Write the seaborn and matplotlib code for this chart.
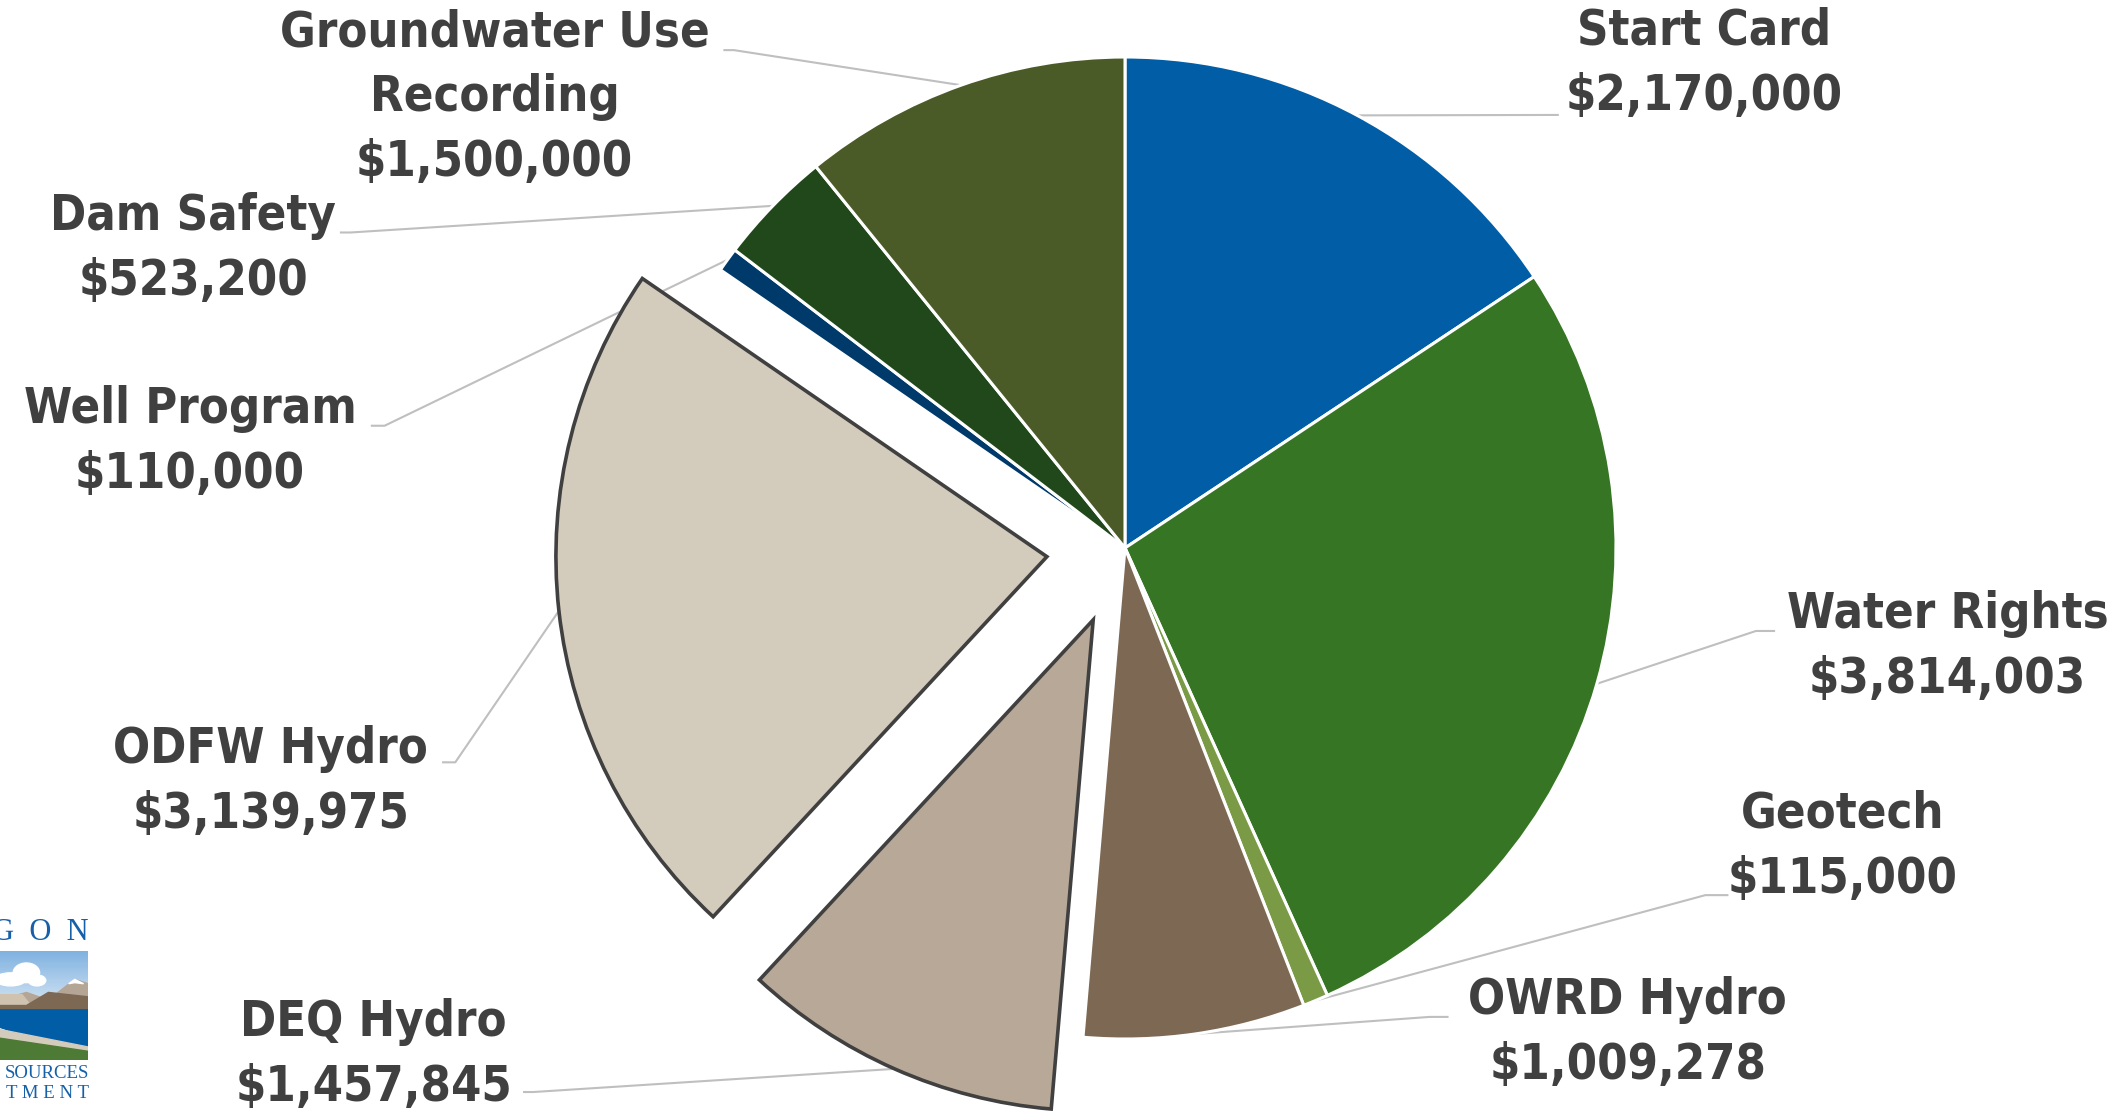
import numpy as np
import seaborn as sns
import matplotlib.pyplot as plt
from matplotlib.patches import Polygon, Ellipse
from matplotlib.colors import LinearSegmentedColormap

# data
programs = ["Start Card", "Water Rights", "Geotech", "OWRD Hydro", "DEQ Hydro",
            "ODFW Hydro", "Well Program", "Dam Safety", "Groundwater Use\nRecording"]
amounts = [2170000, 3814003, 115000, 1009278, 1457845, 3139975, 110000, 523200, 1500000]
colors = ["#005DA6", "#367524", "#7A9A45", "#7D6853", "#B8A898",
          "#D3CBBB", "#003A6B", "#21481A", "#4B5B28"]
exploded = ["DEQ Hydro", "ODFW Hydro"]

sns.set_theme(style="white")
plt.rcParams['font.family'] = ['DejaVu Sans']

fig = plt.figure(figsize=(21.2, 11.11), dpi=100)
ax = fig.add_axes([0, 0, 1, 1])

explode = [0.16 if p in exploded else 0 for p in programs]
wedges, _ = ax.pie(amounts, colors=colors, startangle=90, counterclock=False,
                   explode=explode, radius=1,
                   wedgeprops=dict(edgecolor='white', linewidth=2.2))
for w, p in zip(wedges, programs):
    if p in exploded:
        w.set_edgecolor('#404040')
        w.set_linewidth(2.6)

# label centres and leader-line anchors (pie units)
label_xy = [(1.180, 0.987), (1.675, -0.200), (1.462, -0.607), (1.024, -0.987),
            (-1.530, -1.031), (-1.740, -0.475), (-1.904, 0.216), (-1.898, 0.610),
            (-1.284, 0.918)]
leader_ends = [[(0.8835, 0.882)],
               [(1.285, -0.169), (1.324, -0.169)],
               [(1.182, -0.707), (1.229, -0.707)],
               [(0.6205, -0.955), (0.659, -0.955)],
               [(-1.205, -1.108), (-1.226, -1.108)],
               [(-1.364, -0.4365), (-1.391, -0.4365)],
               [(-1.508, 0.249), (-1.536, 0.249)],
               [(-1.577, 0.6426), (-1.599, 0.6426)],
               [(-0.7965, 1.014), (-0.818, 1.014)]]

for w, p, a, xy, ends in zip(wedges, programs, amounts, label_xy, leader_ends):
    mid = np.deg2rad((w.theta1 + w.theta2) / 2)
    cx, cy = w.center
    sx, sy = cx + np.cos(mid) * w.r, cy + np.sin(mid) * w.r
    xs = [sx] + [e[0] for e in ends]
    ys = [sy] + [e[1] for e in ends]
    ax.plot(xs, ys, color='#BFBFBF', lw=1.5, solid_capstyle='butt', zorder=0)
    ax.text(xy[0], xy[1], f"{p}\n${a:,}", ha='center', va='center',
            multialignment='center', fontsize=35, fontweight='bold',
            fontstretch='condensed', color='#404040', linespacing=1.45)

ax.set_xlim(-1125 / 491, 995 / 491)
ax.set_ylim(-563 / 491, 548 / 491)
ax.set_aspect('auto')
ax.axis('off')

# partial agency logo in the lower-left corner
lax = fig.add_axes([0, 0.0459, 0.0415, 0.0981])
lax.set_xlim(0, 1)
lax.set_ylim(0, 1)
lax.axis('off')
sky = LinearSegmentedColormap.from_list('sky', ['#E3EEF7', '#7FB1E0'])
lax.imshow(np.linspace(0, 1, 50).reshape(-1, 1), cmap=sky, origin='lower',
           extent=[0, 1, 0.4, 1], aspect='auto', zorder=0)
for cxy, wd, ht in [((0.12, 0.74), 0.35, 0.12), ((0.3, 0.8), 0.3, 0.18),
                    ((0.42, 0.73), 0.2, 0.1)]:
    lax.add_patch(Ellipse(cxy, wd, ht, color='white', zorder=1))
lax.add_patch(Polygon([(0, 0.55), (0.3, 0.62), (0.55, 0.55), (0.85, 0.74), (1, 0.7),
                       (1, 0.4), (0, 0.4)], color='#B5A595', zorder=2))
lax.add_patch(Polygon([(0.78, 0.7), (0.85, 0.74), (0.95, 0.7), (0.85, 0.71)],
                      color='white', zorder=3))
lax.add_patch(Polygon([(0, 0.6), (0.25, 0.6), (0.35, 0.5), (0, 0.45)],
                      color='#CFC3B0', zorder=3))
lax.add_patch(Polygon([(0, 0.5), (0.3, 0.5), (0.55, 0.62), (1, 0.58), (1, 0.44),
                       (0, 0.44)], color='#7D6853', zorder=3))
lax.add_patch(Polygon([(0, 0.46), (1, 0.46), (1, 0.12), (0.5, 0.16), (0, 0.3)],
                      color='#005DA6', zorder=4))
xx = np.linspace(0, 1, 30)
lax.add_patch(Polygon(list(zip(xx, 0.28 - 0.16 * xx)) + [(1, 0), (0, 0)],
                      color='#D3CBBB', zorder=5))
lax.add_patch(Polygon(list(zip(xx, 0.2 - 0.12 * xx)) + [(1, 0), (0, 0)],
                      color='#4D7A35', zorder=6))

logo_font = dict(family='Liberation Serif', color='#1560A8', ha='right', va='center')
fig.text(89 / 2120, (1111 - 932) / 1111, "G  O  N", fontsize=22, **logo_font)
fig.text(89 / 2120, (1111 - 1074) / 1111, "SOURCES", fontsize=13.5, **logo_font)
fig.text(89 / 2120, (1111 - 1094) / 1111, "T M E N T", fontsize=13.5, **logo_font)

fig.savefig('out.png', dpi=100)
